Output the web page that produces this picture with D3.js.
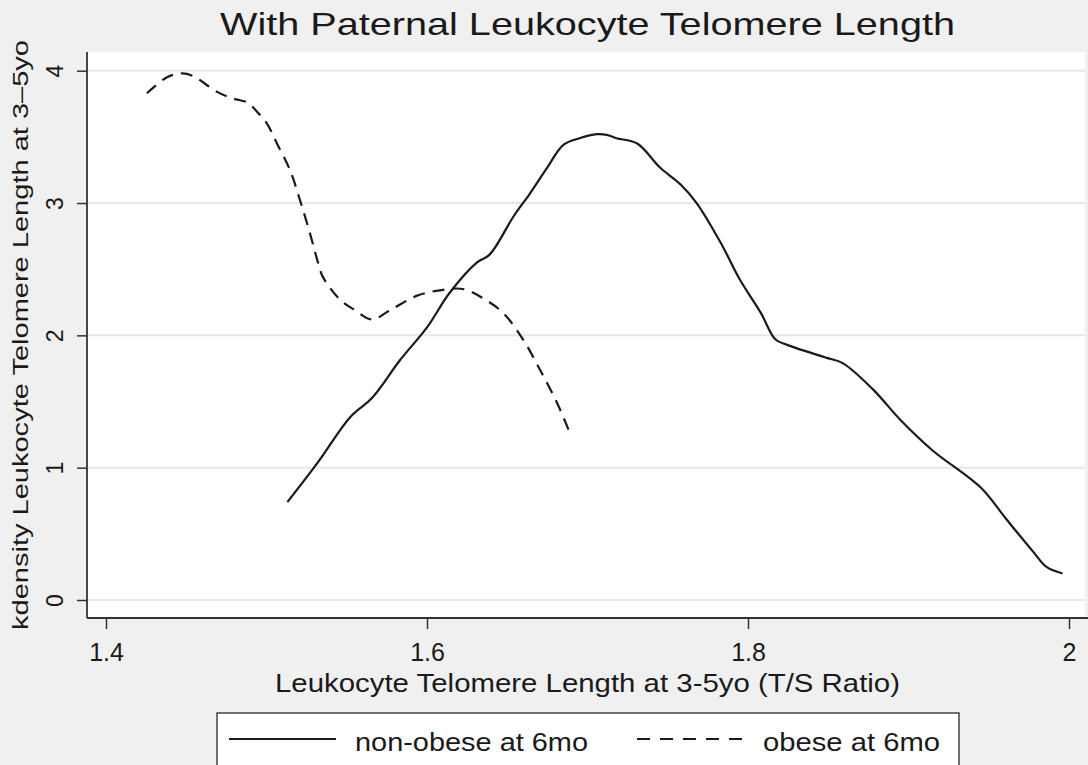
<!DOCTYPE html>
<html>
<head>
<meta charset="utf-8">
<script src="https://cdn.jsdelivr.net/npm/d3@7"></script>
<style>
    body { margin: 0; background: #f0f0f0; }
    svg text { font-family: "Liberation Sans", Arial, sans-serif; fill: #1a1a1a; }
</style>
</head>
<body>
<div id="chart"></div>
<script>

// kdensity curves (x = T/S ratio, y = density)
let nonObeseX = [1.513, 1.532, 1.552, 1.566, 1.583, 1.600, 1.614, 1.631, 1.639, 1.654, 1.664, 1.675, 1.685, 1.695,
    1.706, 1.712, 1.718, 1.731, 1.745, 1.758, 1.768, 1.783, 1.795, 1.808, 1.817, 1.824, 1.849, 1.859, 1.878,
    1.895, 1.915, 1.945, 1.961, 1.978, 1.986, 1.996];
let nonObeseY = [0.74, 1.04, 1.38, 1.53, 1.81, 2.06, 2.32, 2.55, 2.61, 2.90, 3.07, 3.27, 3.44, 3.49,
    3.52, 3.515, 3.49, 3.45, 3.27, 3.14, 3.00, 2.70, 2.42, 2.17, 1.97, 1.93, 1.83, 1.79, 1.59,
    1.36, 1.13, 0.85, 0.61, 0.36, 0.25, 0.20];

let obeseX = [1.4255, 1.438, 1.4474, 1.4542, 1.4692, 1.4791, 1.4879, 1.4941, 1.5003, 1.5065, 1.5146, 1.5209,
    1.5271, 1.5321, 1.5352, 1.5458, 1.5551, 1.5657, 1.577, 1.5938, 1.6081, 1.6224, 1.6349, 1.6474,
    1.6598, 1.6704, 1.681, 1.6891];
let obeseY = [3.83, 3.95, 3.98, 3.96, 3.84, 3.79, 3.76, 3.69, 3.60, 3.45, 3.25, 3.02,
    2.77, 2.55, 2.44, 2.27, 2.19, 2.12, 2.19, 2.30, 2.34, 2.35, 2.28, 2.17,
    1.97, 1.74, 1.49, 1.26];

let xTicks = [1.4, 1.6, 1.8, 2];
let yTicks = [0, 1, 2, 3, 4];
let seriesNames = ["non-obese at 6mo", "obese at 6mo"];

class KdensityVis {

    constructor(parentElement) {
        this.parentElement = parentElement;
        this.initVis();
    }

    initVis() {
        let vis = this;

        vis.width = 1088;
        vis.height = 765;

        vis.svg = d3.select("#" + vis.parentElement).append("svg")
            .attr("width", vis.width)
            .attr("height", vis.height)
            .style("display", "block");

        // plot region (white) and data scales
        vis.plot = {left: 87, right: 1085, top: 52, bottom: 618};

        vis.x = d3.scaleLinear()
            .domain([1.4, 2])
            .range([106, 1069]);

        vis.y = d3.scaleLinear()
            .domain([0, 4])
            .range([600, 70.7]);

        vis.svg.append("rect")
            .attr("x", vis.plot.left)
            .attr("y", vis.plot.top)
            .attr("width", vis.plot.right - vis.plot.left)
            .attr("height", vis.plot.bottom - vis.plot.top)
            .attr("fill", "#ffffff");

        // gridlines
        vis.svg.append("g")
            .selectAll("line")
            .data(yTicks)
            .enter().append("line")
            .attr("x1", vis.plot.left)
            .attr("x2", vis.plot.right)
            .attr("y1", d => vis.y(d))
            .attr("y2", d => vis.y(d))
            .attr("stroke", "#e8e8e8")
            .attr("stroke-width", 2);

        // y axis
        let yAxis = vis.svg.append("g")
            .attr("transform", `translate(${vis.plot.left},0)`)
            .call(d3.axisLeft(vis.y).tickValues(yTicks).tickSize(10).tickFormat(d3.format("d")));
        yAxis.select(".domain").remove();
        yAxis.selectAll(".tick line").attr("stroke", "#333").attr("stroke-width", 1.5);
        yAxis.selectAll(".tick text")
            .attr("x", 0).attr("y", 0).attr("dy", null)
            .attr("transform", "translate(-24,0) rotate(-90)")
            .attr("text-anchor", "middle")
            .style("font-size", "23px")
            .attr("fill", "#1a1a1a");

        // x axis
        let xAxis = vis.svg.append("g")
            .attr("transform", `translate(0,${vis.plot.bottom})`)
            .call(d3.axisBottom(vis.x).tickValues(xTicks).tickSize(11).tickFormat(d => d3.format("")(d)));
        xAxis.select(".domain").remove();
        xAxis.selectAll(".tick line").attr("stroke", "#333").attr("stroke-width", 1.5);
        xAxis.selectAll(".tick text")
            .attr("y", 43).attr("dy", null)
            .style("font-size", "25px")
            .attr("fill", "#1a1a1a");

        // axis lines
        vis.svg.append("line")
            .attr("x1", vis.plot.left).attr("x2", vis.plot.left)
            .attr("y1", vis.plot.top).attr("y2", vis.plot.bottom)
            .attr("stroke", "#333").attr("stroke-width", 1.8);
        vis.svg.append("line")
            .attr("x1", vis.plot.left).attr("x2", vis.width)
            .attr("y1", vis.plot.bottom).attr("y2", vis.plot.bottom)
            .attr("stroke", "#333").attr("stroke-width", 1.8);

        // titles
        vis.svg.append("text")
            .attr("x", 587.5).attr("y", 35)
            .attr("text-anchor", "middle")
            .attr("textLength", 735).attr("lengthAdjust", "spacingAndGlyphs")
            .style("font-size", "32px")
            .text("With Paternal Leukocyte Telomere Length");

        vis.svg.append("text")
            .attr("x", 587.5).attr("y", 692)
            .attr("text-anchor", "middle")
            .attr("textLength", 625).attr("lengthAdjust", "spacingAndGlyphs")
            .style("font-size", "26px")
            .text("Leukocyte Telomere Length at 3-5yo (T/S Ratio)");

        vis.svg.append("text")
            .attr("transform", "translate(28,335) rotate(-90)")
            .attr("text-anchor", "middle")
            .attr("textLength", 590).attr("lengthAdjust", "spacingAndGlyphs")
            .style("font-size", "22px")
            .text("kdensity Leukocyte Telomere Length at 3\u20135yo");

        vis.line = d3.line()
            .x(d => vis.x(d[0]))
            .y(d => vis.y(d[1]))
            .curve(d3.curveCatmullRom.alpha(0.5));

        vis.wrangleData();
    }

    wrangleData() {
        let vis = this;

        vis.displayData = [
            {name: seriesNames[0], dash: null, values: nonObeseX.map((x, i) => [x, nonObeseY[i]])},
            {name: seriesNames[1], dash: "12,8", values: obeseX.map((x, i) => [x, obeseY[i]])}
        ];

        vis.updateVis();
    }

    updateVis() {
        let vis = this;

        vis.svg.append("g")
            .selectAll("path")
            .data(vis.displayData)
            .enter().append("path")
            .attr("d", d => vis.line(d.values))
            .attr("fill", "none")
            .attr("stroke", "#1a1a1a")
            .attr("stroke-width", 2.2)
            .attr("stroke-dasharray", d => d.dash);

        // legend
        let legend = vis.svg.append("g").attr("class", "legend");
        legend.append("rect")
            .attr("x", 217).attr("y", 713)
            .attr("width", 742).attr("height", 80)
            .attr("fill", "#ffffff")
            .attr("stroke", "#444").attr("stroke-width", 1.5);

        let entries = [
            {x1: 229, x2: 336, tx: 355, tw: 233, dash: null},
            {x1: 637, x2: 747, tx: 763, tw: 177, dash: "13,10"}
        ];
        entries.forEach((e, i) => {
            legend.append("line")
                .attr("x1", e.x1).attr("x2", e.x2)
                .attr("y1", 739).attr("y2", 739)
                .attr("stroke", "#1a1a1a").attr("stroke-width", 2.2)
                .attr("stroke-dasharray", e.dash);
            legend.append("text")
                .attr("x", e.tx).attr("y", 751)
                .attr("textLength", e.tw).attr("lengthAdjust", "spacingAndGlyphs")
                .style("font-size", "26px")
                .text(seriesNames[i]);
        });
    }
}

new KdensityVis("chart");
</script>
</body>
</html>
